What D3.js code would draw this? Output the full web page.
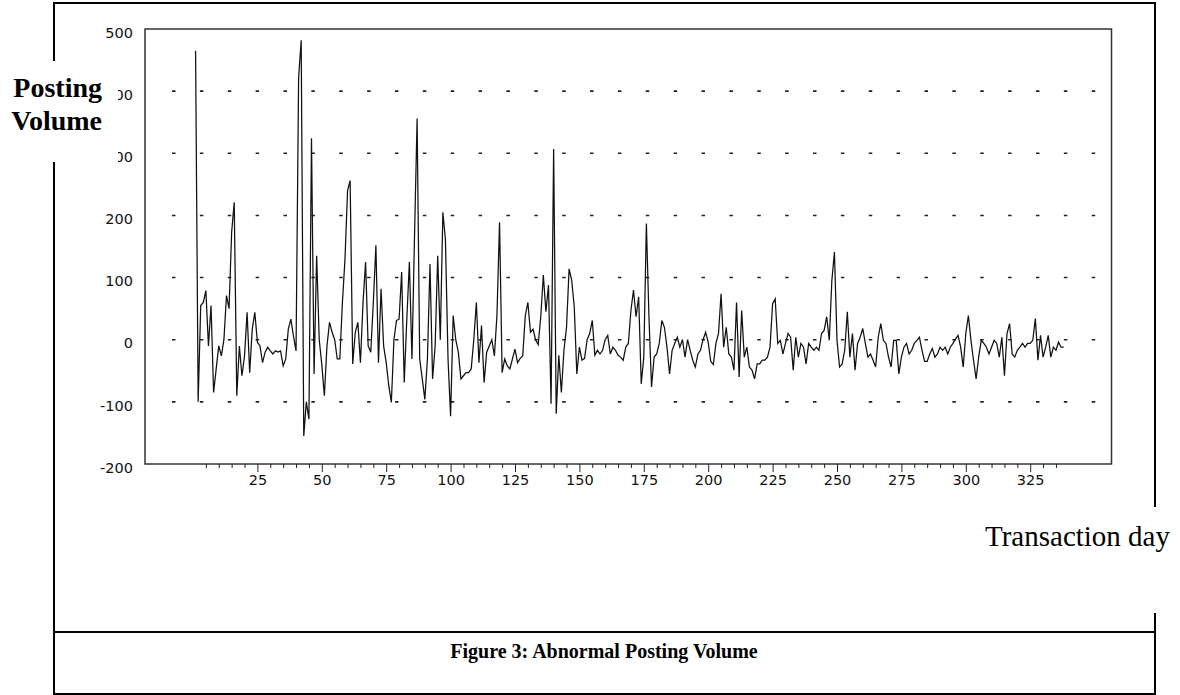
<!DOCTYPE html>
<meta charset="utf-8">
<style>

body {
  margin: 0;
  background: #fff;
}

.frame {
  stroke: #000;
  stroke-width: 2px;
}

.tick text {
  font-family: "DejaVu Sans", sans-serif;
  font-size: 14.5px;
  fill: #111;
}

.tick line {
  stroke: #222;
}

.grid {
  stroke: #222;
  stroke-width: 1.6px;
}

.series {
  fill: none;
  stroke: #111;
  stroke-width: 1.25px;
  stroke-linejoin: miter;
}

</style>
<body>
<script src="https://cdn.jsdelivr.net/npm/d3@7"></script>
<script>

// abnormal posting volume, one value per transaction day
var posting = [
  465, -100, 55, 60, 79, -10, 55, -85, -47, -10, -26, 0, 71, 50, 173, 221, -90, -10, -58, -26,
  44, -53, 17, 44, -4, -10, -37, -20, -12, -18, -23, -18, -20, -18, -42, -31, 17, 33, 6, -18,
  422, 482, -155, -100, -128, 324, -55, 135, 0, -40, -90, -10, 28, 12, 0, -31, -31, 60, 130, 240,
  256, -39, 12, 28, -37, 60, 125, -10, -20, 60, 152, -37, 82, -10, -37, -74, -101, 0, 31, 33,
  109, -69, 33, 125, -31, 168, 356, -31, -63, -96, -31, 122, -63, -10, 135, 0, 205, 160, -31, -123,
  39, 0, -20, -63, -58, -53, -53, -47, 0, 60, -37, 23, -69, -20, -10, 0, -26, 40, 189, -53,
  -31, -42, -47, -31, -15, -37, -30, -26, 39, 60, 12, 17, 0, -8, 37, 104, 45, 88, -103, 307,
  -119, -25, -85, -17, 20, 114, 96, 53, -55, -12, -33, -30, 0, 10, 31, -25, -17, -23, -17, 0,
  7, -23, -12, -17, -25, -28, -33, -12, -6, 47, 80, 37, 69, -71, -28, 187, 37, -76, -28, -23,
  -6, 31, 20, -12, -55, -17, -6, 4, -12, 0, -28, 0, -17, -33, -44, -23, -17, 0, 12, -4,
  -35, -40, -6, 10, 74, -12, 20, -23, -28, -49, 60, -60, 47, -28, -12, -44, -49, -63, -39, -39,
  -33, -33, -28, -12, 58, 66, -6, -1, -23, -6, 10, 4, -49, 4, -28, -6, -12, -39, -6, -12,
  -17, -12, -17, 10, 15, 37, -1, 95, 141, -1, -44, -39, -17, 45, -28, 10, -49, -6, 4, 18,
  -6, -28, -23, -33, -44, 4, 26, -1, -6, -28, -44, -1, -1, -55, -28, -12, -6, -23, -17, -6,
  -1, 4, -17, -35, -35, -23, -14, -28, -23, -12, -17, -12, -23, -12, -6, 1, 7, -12, -44, 10,
  39, -1, -33, -63, -28, -1, -6, -12, -23, -12, -1, -6, -28, 4, -58, 10, 26, -23, -28, -17,
  -12, -6, -12, -6, -6, -1, 34, -33, 7, -28, -12, 7, -28, -12, -17, -4, -12, -12
];

var yTicks = [-200, -100, 0, 100, 200, 300, 400, 500],
    gridValues = [-100, 0, 100, 200, 300, 400],
    xMajor = [25, 50, 75, 100, 125, 150, 175, 200, 225, 250, 275, 300, 325],
    xMinor = d3.range(5, 340, 5).filter(function(d) { return d % 25; });

var w = 1180,
    h = 695,
    box = {left: 145, right: 1111.5, top: 29, bottom: 464};

// plain hyphen for negatives, like the original
function label(d) {
  return String(d);
}

var x = d3.scaleLinear()
    .domain([0, 350])
    .range([193, 1094.6]);

var y = d3.scaleLinear()
    .domain([-200, 500])
    .range([box.bottom, box.top]);

var svg = d3.select("body").append("svg")
    .attr("width", w)
    .attr("height", h);

// outer frame of the figure
var frame = [
  [53, 3, 1156, 3],
  [54, 3, 54, 695],
  [1155, 3, 1155, 507],
  [1155, 613, 1155, 695],
  [53, 632, 1156, 632],
  [53, 694, 1156, 694]
];

svg.selectAll(".frame")
    .data(frame)
  .enter().append("line")
    .attr("class", "frame")
    .attr("x1", function(d) { return d[0]; })
    .attr("y1", function(d) { return d[1]; })
    .attr("x2", function(d) { return d[2]; })
    .attr("y2", function(d) { return d[3]; });

svg.append("rect")
    .attr("x", box.left)
    .attr("y", box.top)
    .attr("width", box.right - box.left)
    .attr("height", box.bottom - box.top)
    .style("fill", "#fff")
    .style("stroke", "#333")
    .style("stroke-width", 1.5);

svg.selectAll(".grid")
    .data(gridValues)
  .enter().append("line")
    .attr("class", "grid")
    .attr("x1", 172)
    .attr("x2", 1097)
    .attr("y1", function(d) { return y(d); })
    .attr("y2", function(d) { return y(d); })
    .style("stroke-dasharray", "3.5 24.37");

var line = d3.line()
    .x(function(d, i) { return x(i + 1); })
    .y(function(d) { return y(d); });

svg.append("path")
    .datum(posting)
    .attr("class", "series")
    .attr("d", line);

// x axis: minor ticks every 5 days, labelled ticks every 25
var minorAxis = svg.append("g")
    .attr("transform", "translate(0," + box.bottom + ")")
    .call(d3.axisBottom(x).tickValues(xMinor).tickSize(4).tickFormat(""));

var majorAxis = svg.append("g")
    .attr("transform", "translate(0," + box.bottom + ")")
    .call(d3.axisBottom(x).tickValues(xMajor).tickSize(8).tickPadding(3).tickFormat(label));

minorAxis.select(".domain").remove();
majorAxis.select(".domain").remove();

var yAxis = svg.append("g")
    .attr("transform", "translate(" + box.left + ",0)")
    .call(d3.axisLeft(y).tickValues(yTicks).tickSize(0).tickPadding(12).tickFormat(label));

yAxis.select(".domain").remove();
yAxis.selectAll("text").attr("dy", "0.57em");

// the axis title sits in a white box on top of the frame and two labels
svg.append("rect")
    .attr("x", 0)
    .attr("y", 61)
    .attr("width", 118)
    .attr("height", 101)
    .style("fill", "#fff");

svg.selectAll(".ytitle")
    .data(["Posting", "Volume"])
  .enter().append("text")
    .attr("class", "ytitle")
    .attr("x", 102)
    .attr("y", function(d, i) { return 97 + i * 33; })
    .attr("text-anchor", "end")
    .style("font-family", "'Liberation Serif', 'Times New Roman', serif")
    .style("font-weight", "bold")
    .style("font-size", "28px")
    .text(function(d) { return d; });

svg.append("rect")
    .attr("x", 980)
    .attr("y", 507)
    .attr("width", 200)
    .attr("height", 106)
    .style("fill", "#fff");

svg.append("text")
    .attr("x", 985)
    .attr("y", 546)
    .style("font-family", "'Liberation Serif', 'Times New Roman', serif")
    .style("font-size", "29px")
    .text("Transaction day");

svg.append("text")
    .attr("x", 604)
    .attr("y", 658)
    .attr("text-anchor", "middle")
    .style("font-family", "'Liberation Serif', 'Times New Roman', serif")
    .style("font-weight", "bold")
    .style("font-size", "20px")
    .text("Figure 3: Abnormal Posting Volume");

</script>
